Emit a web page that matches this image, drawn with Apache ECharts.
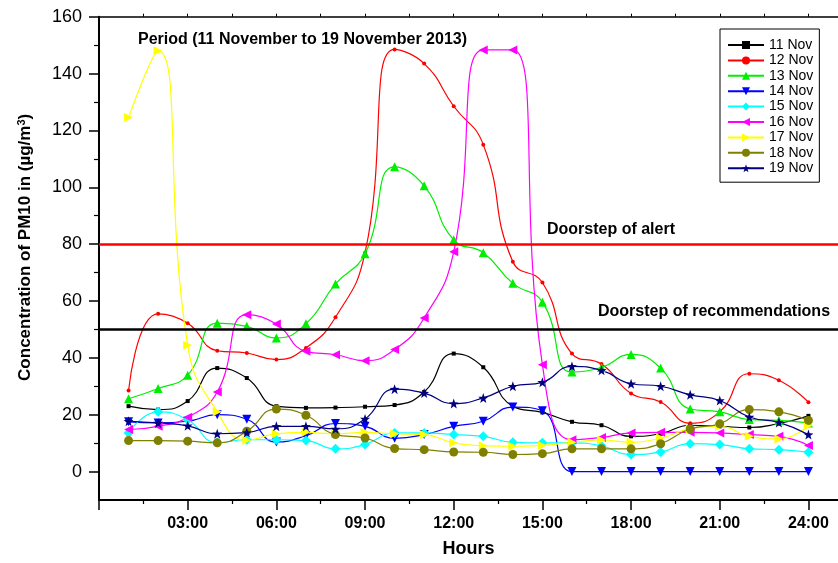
<!DOCTYPE html>
<html>
<head>
<meta charset="utf-8">
<script src="https://cdn.jsdelivr.net/npm/echarts@6/dist/echarts.min.js"></script>
<style>html,body{margin:0;padding:0;background:#fff;}#c{width:838px;height:563px;}</style>
</head>
<body>
<div id="c"></div>
<script>
// ---- data ----
const hours = [1,2,3,4,5,6,7,8,9,10,11,12,13,14,15,16,17,18,19,20,21,22,23,24];
const nov11 = [23, 21.8, 24.8, 36.4, 32.9, 23, 22.4, 22.5, 22.8, 23.4, 28, 41.5, 36.7, 23, 20.8, 17.5, 16.3, 12.4, 13.3, 16.3, 15.9, 15.5, 16.9, 19.6];
const nov12 = [28.5, 55.5, 52.2, 42.5, 41.7, 39.4, 43.5, 54.3, 77, 148.5, 143.5, 128.5, 115, 73.8, 66.5, 41.5, 37.8, 27.5, 24.5, 17, 21, 34.4, 32.1, 24.4];
const nov13 = [25.6, 29.2, 33.9, 52.2, 51.1, 47, 52, 66, 76.6, 107.2, 100.5, 81.5, 77, 66.2, 59.6, 35, 36.6, 41.2, 36.4, 22, 21, 18.3, 18, 17.1];
const nov14 = [17.5, 17.1, 17.7, 20, 18.4, 10.4, 12.6, 16.9, 15.9, 11.7, 13, 15.9, 17.7, 22.7, 21.4, 0, 0, 0, 0, 0, 0, 0, 0, 0];
const nov15 = [13.6, 21, 18.2, 10.2, 11.2, 11.2, 10.9, 8, 9.5, 13.6, 13.6, 13, 12.4, 10.3, 10.1, 10.1, 9, 6, 6.9, 9.8, 9.5, 8, 7.7, 6.8];
const nov16 = [14.8, 15.9, 19.1, 28, 55.2, 51.9, 42.3, 41.1, 39, 42.9, 54, 77.3, 148.3, 148.3, 37.6, 11.2, 12, 13.6, 13.8, 13.8, 13.6, 13, 12.4, 9.2];
const nov17 = [124.5, 148, 44.4, 21, 11, 13.3, 13.8, 13.3, 13.8, 13.3, 13, 10.1, 9.1, 8.9, 9.2, 10.3, 11.1, 10.3, 11.8, 15, 15.9, 12.4, 11.5, 16.2];
const nov18 = [10.9, 10.9, 10.7, 10.1, 14.2, 22, 19.8, 13, 11.8, 8.1, 7.7, 6.9, 6.8, 6, 6.3, 8, 8, 8, 9.8, 15, 16.8, 21.8, 21, 18];
const nov19 = [17.7, 17.1, 16.1, 13.3, 13.7, 15.9, 15.9, 15, 18.5, 29, 27.6, 23.9, 25.9, 30, 31.4, 37, 35.6, 30.9, 30, 27, 25, 19.2, 17.3, 13];
const seriesNames = ['11 Nov','12 Nov','13 Nov','14 Nov','15 Nov','16 Nov','17 Nov','18 Nov','19 Nov'];
const seriesValues = [nov11, nov12, nov13, nov14, nov15, nov16, nov17, nov18, nov19];
const alertLevel = 80;
const recommendLevel = 50;
const xMajorTicks = [0,3,6,9,12,15,18,21,24];
const xLabelValues = [3,6,9,12,15,18,21,24];
const xMinorTicks = [1.5,4.5,7.5,10.5,13.5,16.5,19.5,22.5];
const xTopTicks = [1.5,3,4.5,6,7.5,9,10.5,12,13.5,15,16.5,18,19.5,21,22.5,24];
const yLabelValues = [0,20,40,60,80,100,120,140,160];
const yMinorTicks = [10,30,50,70,90,110,130,150];

// ---- styles ----
const FONT = 'Liberation Sans';
const star = 'path://M0,-10 L2.35,-3.24 9.51,-3.09 3.8,1.24 5.88,8.09 0,4 -5.88,8.09 -3.8,1.24 -9.51,-3.09 -2.35,-3.24Z';
const styles = [
  {color:'#000000', symbol:'rect', size:4, rot:0},
  {color:'#ff0000', symbol:'circle', size:4, rot:0},
  {color:'#00ee00', symbol:'triangle', size:9, rot:0},
  {color:'#0000ff', symbol:'triangle', size:9, rot:180},
  {color:'#00ffff', symbol:'diamond', size:10, rot:0},
  {color:'#ff00ff', symbol:'triangle', size:9, rot:90},
  {color:'#ffff00', symbol:'triangle', size:9, rot:-90},
  {color:'#808000', symbol:'circle', size:9, rot:0},
  {color:'#000080', symbol:star, size:10, rot:0}
];

const series = seriesValues.map((vals, i) => ({
  name: seriesNames[i],
  type: 'line',
  xAxisIndex: 0,
  yAxisIndex: 0,
  data: hours.map((h, j) => [h, vals[j]]),
  smooth: 0.5,
  symbol: styles[i].symbol,
  symbolSize: styles[i].size,
  symbolRotate: styles[i].rot,
  showAllSymbol: true,
  itemStyle: {color: styles[i].color},
  lineStyle: {color: styles[i].color, width: 1.2},
  z: 3
}));
series[0].markLine = {
  silent: true,
  symbol: 'none',
  label: {show: false},
  data: [
    {yAxis: alertLevel, lineStyle: {color:'#ff0000', width: 2.5, type:'solid'}},
    {yAxis: recommendLevel, lineStyle: {color:'#000000', width: 2.5, type:'solid'}}
  ]
};

const chart = echarts.init(document.getElementById('c'));
chart.setOption({
  animation: false,
  backgroundColor: '#ffffff',
  textStyle: {fontFamily: FONT, color: '#000'},
  grid: {left: 99, top: 16.7, right: -5.5, bottom: 62.5, containLabel: false},
  legend: {
    orient: 'vertical',
    left: 720, top: 29,
    width: 97,
    padding: [9, 6, 7, 7],
    borderColor: '#000', borderWidth: 1,
    itemWidth: 36, itemHeight: 10, itemGap: 1.4,
    textStyle: {fontFamily: FONT, fontSize: 14, color:'#000'},
    data: seriesNames
  },
  xAxis: [
    {
      type: 'value', position: 'bottom', min: 0, max: 25, interval: 3,
      name: 'Hours', nameLocation: 'middle', nameGap: 40,
      nameTextStyle: {fontFamily: FONT, fontSize: 18, fontWeight: 'bold', color:'#000'},
      axisLine: {show: true, onZero: false, lineStyle: {color:'#000', width: 2}},
      axisTick: {show: true, inside: false, length: 10, customValues: xMajorTicks, lineStyle:{color:'#000', width:1.5}},
      axisLabel: {show: true, customValues: xLabelValues, margin: 16, fontFamily: FONT, fontSize: 16, fontWeight: 'bold', color:'#000',
        formatter: v => (v < 10 ? '0' : '') + v + ':00'},
      splitLine: {show: false}
    },
    {
      type: 'value', position: 'bottom', min: 0, max: 25, interval: 3,
      axisLine: {show: false, onZero: false},
      axisTick: {show: true, inside: false, length: 4, customValues: xMinorTicks, lineStyle:{color:'#000', width:1.2}},
      axisLabel: {show: false},
      splitLine: {show: false}
    },
    {
      type: 'value', position: 'top', min: 0, max: 25, interval: 3,
      axisLine: {show: true, onZero: false, lineStyle: {color:'#000', width: 1.5}},
      axisTick: {show: true, inside: false, length: 3, customValues: xTopTicks, lineStyle:{color:'#000', width:1}},
      axisLabel: {show: false},
      splitLine: {show: false}
    }
  ],
  yAxis: [
    {
      type: 'value', position: 'left', min: -10, max: 160, interval: 10,
      name: 'Concentration of PM10 in (µg/m{sup|3})', nameLocation: 'middle', nameGap: 64, nameRotate: 90,
      nameTextStyle: {fontFamily: FONT, fontSize: 17, fontWeight: 'bold', color:'#000', padding: [0,0,0,22],
        rich: {sup: {fontFamily: FONT, fontSize: 11, fontWeight: 'bold', verticalAlign: 'top', padding: [0,0,8,0]}}},
      axisLine: {show: true, onZero: false, lineStyle: {color:'#000', width: 2}},
      axisTick: {show: true, inside: false, length: 10, customValues: yLabelValues, lineStyle:{color:'#000', width:1.5}},
      axisLabel: {show: true, customValues: yLabelValues, margin: 17, fontFamily: FONT, fontSize: 18, color:'#000'},
      splitLine: {show: false}
    },
    {
      type: 'value', position: 'left', min: -10, max: 160, interval: 10,
      axisLine: {show: false, onZero: false},
      axisTick: {show: true, inside: false, length: 5, customValues: yMinorTicks, lineStyle:{color:'#000', width:1.2}},
      axisLabel: {show: false},
      splitLine: {show: false}
    }
  ],
  graphic: [
    {type:'text', x: 138, y: 40, style: {text: 'Period (11 November to 19 November 2013)', font: 'bold 16px "Liberation Sans"', fill:'#000', textVerticalAlign:'middle'}},
    {type:'text', x: 547, y: 230, style: {text: 'Doorstep of alert', font: 'bold 16px "Liberation Sans"', fill:'#000', textVerticalAlign:'middle'}},
    {type:'text', x: 598, y: 312, style: {text: 'Doorstep of recommendations', font: 'bold 16px "Liberation Sans"', fill:'#000', textVerticalAlign:'middle'}}
  ],
  series: series
});
</script>
</body>
</html>
